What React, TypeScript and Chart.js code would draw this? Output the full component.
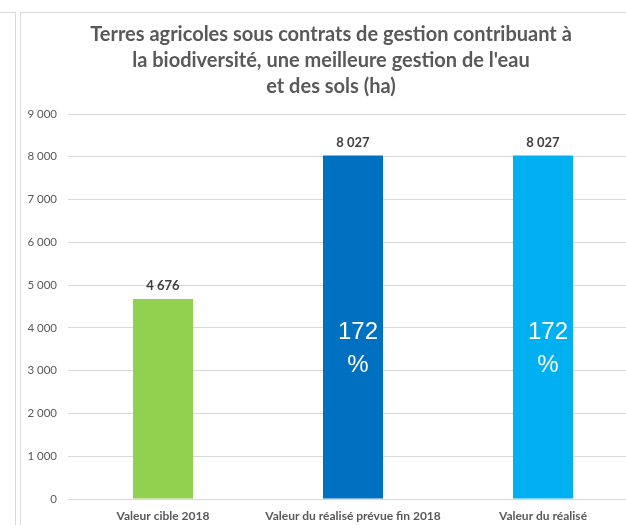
import React, { useEffect, useRef } from "react";
import { Chart, registerables } from "chart.js";

Chart.register(...registerables);

const titleLines = [
  "Terres agricoles sous contrats de gestion contribuant à",
  "la biodiversité, une meilleure gestion de l'eau",
  "et des sols (ha)",
];
const categories = ["Valeur cible 2018", "Valeur du réalisé prévue fin 2018", "Valeur du réalisé"];
const values = [4676, 8027, 8027];
const barColors = ["#92D050", "#0070C0", "#00B0F0"];
const percentLabels = ["", "172 %", "172 %"];
const yMin = 0;
const yMax = 9000;
const yStep = 1000;

const fmt = (v: number) => String(Math.round(v)).replace(/\B(?=(\d{3})+(?!\d))/g, " ");

const labelPlugin = {
  id: "barLabels",
  afterDatasetsDraw(chart: any) {
    const ctx = chart.ctx;
    const meta = chart.getDatasetMeta(0);
    ctx.save();
    meta.data.forEach((bar: any, i: number) => {
      const x = bar.x;
      const top = bar.y;
      const base = bar.base;
      ctx.textAlign = "center";
      ctx.textBaseline = "middle";
      ctx.fillStyle = "#404040";
      ctx.font = "bold 13px Lato";
      ctx.fillText(fmt(values[i]), x, top - 13);
      const p = percentLabels[i];
      if (p) {
        const parts = p.split(" ");
        ctx.fillStyle = "#ffffff";
        ctx.font = "24px 'Liberation Sans'";
        const mid = (top + base) / 2;
        ctx.fillText(parts[0], x + 5, mid + 5);
        ctx.fillText(parts[1], x + 5, mid + 38);
      }
    });
    ctx.restore();
  },
};

export default function App() {
  const ref = useRef<HTMLCanvasElement | null>(null);
  useEffect(() => {
    if (!ref.current) return;
    const chart = new Chart(ref.current, {
      type: "bar",
      data: {
        labels: categories,
        datasets: [
          {
            data: values,
            backgroundColor: barColors,
            borderWidth: 0,
            categoryPercentage: 1,
            barPercentage: 0.316,
          },
        ],
      },
      options: {
        animation: false,
        responsive: false,
        layout: { padding: { left: 24, right: 22, top: 22, bottom: 0 } },
        plugins: {
          legend: { display: false },
          tooltip: { enabled: false },
          title: {
            display: true,
            text: titleLines,
            color: "#595959",
            font: { family: "Lato", size: 20, weight: "bold", lineHeight: 26 / 20 },
            padding: { top: 0, bottom: 14 },
          },
        },
        scales: {
          x: {
            grid: { display: false, drawTicks: false },
            border: { display: false },
            ticks: {
              color: "#595959",
              font: { family: "Lato", size: 12, weight: "bold" },
              padding: 10,
              maxRotation: 0,
              autoSkip: false,
            },
            afterFit(scale: any) {
              scale.height = 26;
            },
          },
          y: {
            min: yMin,
            max: yMax,
            grid: { color: "#d9d9d9", drawTicks: false },
            border: { display: false },
            ticks: {
              stepSize: yStep,
              color: "#595959",
              padding: 11,
              font: { family: "Lato", size: 11.5 },
              callback: (v: any) => fmt(Number(v)),
            },
            afterFit(scale: any) {
              scale.width = 44;
            },
          },
        },
      },
      plugins: [labelPlugin],
    } as any);
    return () => chart.destroy();
  }, []);

  return (
    <div
      style={{
        position: "fixed",
        left: 0,
        top: 0,
        width: 626,
        height: 525,
        overflow: "hidden",
        background: "#ffffff",
      }}
    >
      <div
        style={{
          position: "absolute",
          left: -100,
          top: 12,
          width: 115,
          height: 600,
          borderRight: "1px solid #d9d9d9",
          borderTop: "1px solid #d9d9d9",
        }}
      />
      <div
        style={{
          position: "absolute",
          left: 20,
          top: 12,
          width: 700,
          height: 600,
          borderLeft: "1px solid #d9d9d9",
          borderTop: "1px solid #d9d9d9",
        }}
      />
      <canvas
        ref={ref}
        width={660}
        height={525}
        style={{ position: "absolute", left: 0, top: 0, width: 660, height: 525 }}
      />
    </div>
  );
}
